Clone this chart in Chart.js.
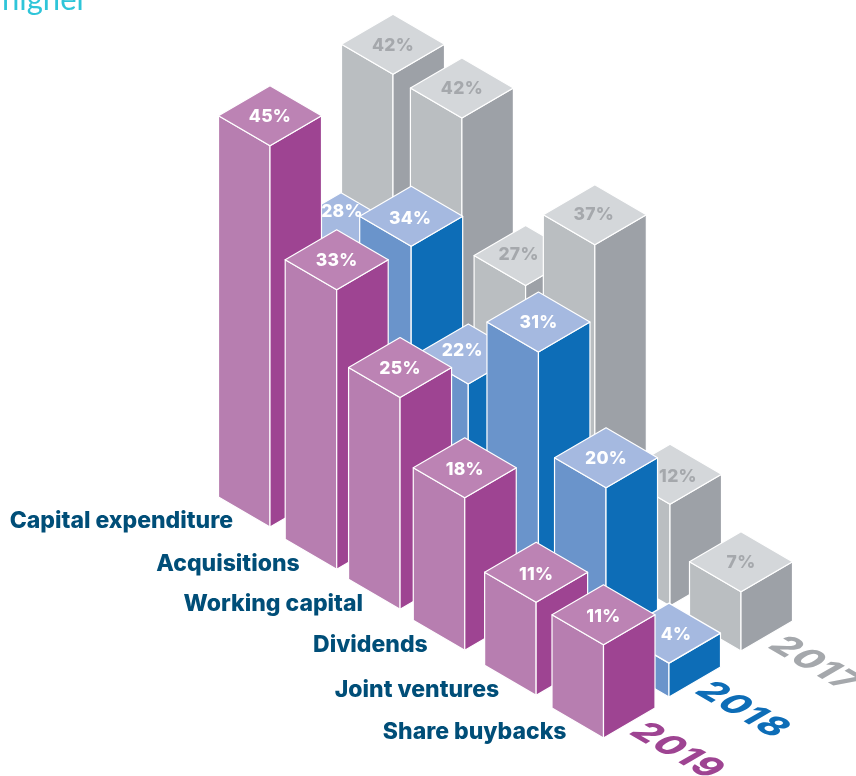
<!DOCTYPE html>
<html>
<head>
<meta charset="utf-8">
<title>Use of cash</title>
<style>
  html, body { margin: 0; background: #fff; overflow: hidden; }
  canvas { display: block; }
</style>
</head>
<body>
<canvas id="isoChart" width="856" height="776"></canvas>
<script src="https://cdn.jsdelivr.net/npm/chart.js@4"></script>
<script>
const categories = ['Capital expenditure', 'Acquisitions', 'Working capital', 'Dividends', 'Joint ventures', 'Share buybacks'];
const years = ['2017', '2018', '2019'];
const values2017 = [42, 42, 27, 37, 12, 7];
const values2018 = [28, 34, 22, 31, 20, 4];
const values2019 = [45, 33, 25, 18, 11, 11];

// where each year's row starts on the floor, how it runs, and the category spacing along it
const rows = {
  2017: { x0: 393, y0: 430, stepX: 69.6, stepY: 44.2, stops: [0, 0.99, 1.905, 2.9, 3.98, 5] },
  2018: { x0: 341, y0: 490, stepX: 65.6, stepY: 41.4, stops: [0, 1.07, 1.94, 3.01, 4.04, 5] },
  2019: { x0: 270, y0: 527, stepX: 66.7, stepY: 42.2, stops: [0, 1, 1.95, 2.92, 3.99, 5] }
};

const colours = {
  2017: { top: '#d4d7da', left: '#babec1', right: '#9da1a7', label: '#a5a8ac', year: '#a5a8ac' },
  2018: { top: '#a5b9e0', left: '#6a94cb', right: '#0d6db7', label: '#ffffff', year: '#0d6db7' },
  2019: { top: '#bc83b4', left: '#b77eb0', right: '#9e4492', label: '#ffffff', year: '#9e4492' }
};

// labels on partly hidden tops sit off-centre so they can be read
const labelNudge = {
  '2018-0': [1, -12], '2018-1': [-1, 1], '2018-2': [-6, -4], '2018-5': [7, 1],
  '2017-2': [-7, -2], '2017-3': [-1, -1], '2017-4': [8, 1],
  '2019-3': [0, 1], '2019-4': [0, 2], '2019-5': [0, 1]
};

const halfW = 51.5;
const halfH = 30;

const face = (ctx, pts, fill) => {
  ctx.beginPath();
  pts.forEach((p, i) => i ? ctx.lineTo(p[0], p[1]) : ctx.moveTo(p[0], p[1]));
  ctx.closePath();
  ctx.fillStyle = fill;
  ctx.fill();
  ctx.stroke();
};

const floorY = (year, i) => rows[year].y0 + rows[year].stops[i] * rows[year].stepY;

const isoBars = {
  id: 'isoBars',
  afterDatasetsDraw(chart) {
    const ctx = chart.ctx;
    const zero = chart.scales.y.getPixelForValue(0);

    ctx.save();
    ctx.lineJoin = 'round';

    chart.data.datasets.forEach((ds, d) => {
      const year = ds.label;
      const col = colours[year];

      chart.getDatasetMeta(d).data.forEach((pt, i) => {
        const x = pt.x;
        const base = floorY(year, i);
        const topY = base - (zero - pt.y);

        ctx.strokeStyle = '#ffffff';
        ctx.lineWidth = 1.2;
        face(ctx, [[x - halfW, topY - halfH], [x, topY], [x, base], [x - halfW, base - halfH]], col.left);
        face(ctx, [[x + halfW, topY - halfH], [x, topY], [x, base], [x + halfW, base - halfH]], col.right);
        face(ctx, [[x, topY - 2 * halfH], [x + halfW, topY - halfH], [x, topY], [x - halfW, topY - halfH]], col.top);

        const nudge = labelNudge[year + '-' + i] || [0, 0];
        ctx.font = '800 17.5px Inter';
        ctx.letterSpacing = '0.3px';
        ctx.textAlign = 'center';
        ctx.textBaseline = 'middle';
        ctx.fillStyle = col.label;
        ctx.fillText(ds.data[i].y + '%', x + nudge[0], topY - halfH + 1 + nudge[1]);
        ctx.letterSpacing = '0px';
      });

      // year name lies flat on the floor past the last bar
      const lastIdx = categories.length - 1;
      const last = chart.getDatasetMeta(d).data[lastIdx];
      ctx.save();
      ctx.transform(0.866, 0.5, -0.866, 0.5, last.x + 74, floorY(year, lastIdx) + 13);
      ctx.font = '800 36px Inter';
      ctx.letterSpacing = '1.5px';
      ctx.textAlign = 'center';
      ctx.textBaseline = 'middle';
      ctx.fillStyle = col.year;
      ctx.fillText(year, 0, 0);
      ctx.restore();
    });

    // category names, right aligned against the front row
    const front = chart.getDatasetMeta(2).data;
    ctx.font = '800 23px Inter';
    ctx.textAlign = 'right';
    ctx.textBaseline = 'middle';
    ctx.fillStyle = '#004e78';
    categories.forEach((name, i) => {
      ctx.fillText(name, front[i].x - 37, floorY(2019, i) - 5.5);
    });

    // tail of the sentence running in from above
    ctx.font = '400 31px Lato';
    ctx.textAlign = 'left';
    ctx.textBaseline = 'alphabetic';
    ctx.fillStyle = '#2ec5d9';
    ctx.fillText('higher', 2, 10);

    ctx.restore();
  }
};

const points = (year, values) => values.map((v, i) => ({ x: rows[year].x0 + rows[year].stops[i] * rows[year].stepX, y: v }));

new Chart(document.getElementById('isoChart'), {
  type: 'scatter',
  data: {
    datasets: [
      { label: years[0], data: points(2017, values2017), pointRadius: 0 },
      { label: years[1], data: points(2018, values2018), pointRadius: 0 },
      { label: years[2], data: points(2019, values2019), pointRadius: 0 }
    ]
  },
  options: {
    responsive: false,
    animation: false,
    layout: { padding: 0 },
    plugins: { legend: { display: false }, tooltip: { enabled: false } },
    scales: {
      x: { type: 'linear', min: 0, max: 856, display: false },
      y: { type: 'linear', min: 0, max: 776 / 8.47, display: false }
    }
  },
  plugins: [isoBars]
});
</script>
</body>
</html>
